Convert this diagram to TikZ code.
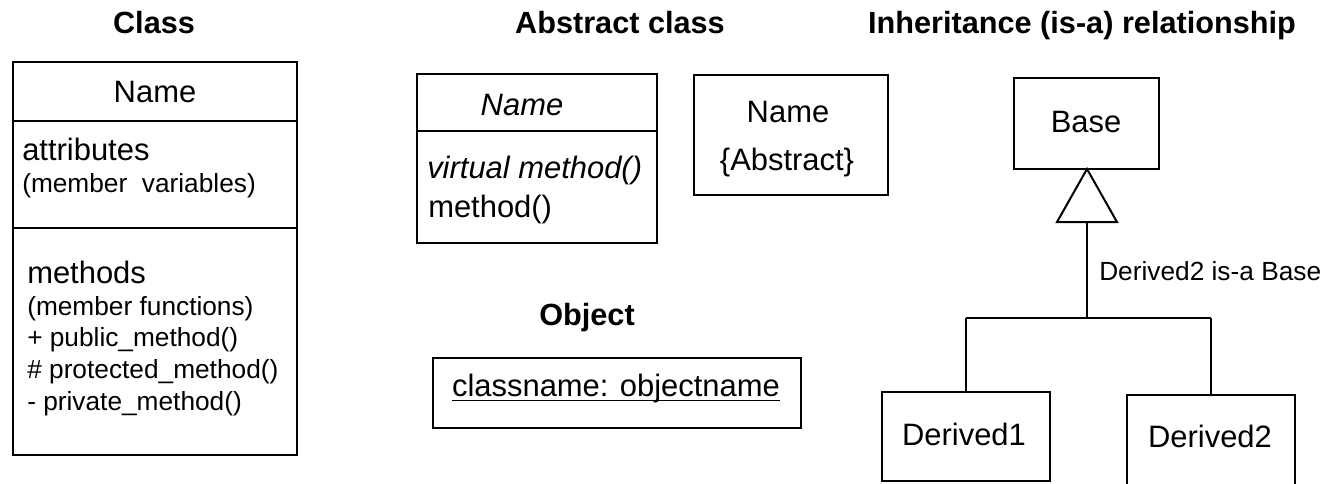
\documentclass[tikz,border=0pt]{standalone}
\usepackage{fontspec}
\setmainfont{Liberation Sans}
\usetikzlibrary{fit}
\begin{document}
\begin{tikzpicture}[x=0.75pt,y=-0.75pt,
  box/.style={draw, line width=1.5pt, inner sep=0pt},
  ln/.style={line width=1.5pt},
  big/.style={font=\fontsize{23.2}{27}\selectfont, inner sep=0pt},
  small/.style={font=\fontsize{19.7}{23}\selectfont, inner sep=0pt},
  ttl/.style={font=\fontsize{23}{27}\selectfont\bfseries, inner sep=0pt, anchor=base}]
\useasboundingbox (0,0) rectangle (1340,483);
% titles
\node[ttl] (t1) at (154,33) {Class};
\node[ttl] (t2) at (620,33) {Abstract class};
\node[ttl] (t3) at (1082,33) {Inheritance (is-a) relationship};
\node[ttl] (t4) at (587,325) {Object};
% class box
\node[box, fit={(13,62)(297,455)}] (cls) {};
\draw[ln] (cls.west |- 0,121) -- (cls.east |- 0,121);
\draw[ln] (cls.west |- 0,228) -- (cls.east |- 0,228);
\node[big, anchor=base] (cname) at (155,102) {Name};
\node[big, anchor=base west] (cattr) at (22,160) {attributes};
\node[small, anchor=base west] (cattr2) at (22,192) {(member\ \ variables)};
\node[big, anchor=base west] (cmeth) at (27,283) {methods};
\node[small, anchor=base west] (cm1) at (27,315) {(member functions)};
\node[small, anchor=base west] (cm2) at (27,346) {+ public\_method()};
\node[small, anchor=base west] (cm3) at (27,378) {\# protected\_method()};
\node[small, anchor=base west] (cm4) at (27,410) {- private\_method()};
% abstract class
\node[box, fit={(417,74)(657,243)}] (abs) {};
\draw[ln] (abs.west |- 0,131) -- (abs.east |- 0,131);
\node[big, anchor=base] (aname) at (522,115) {\itshape Name};
\node[big, anchor=base west] (av) at (427,178) {\itshape virtual method()};
\node[big, anchor=base west] (am) at (428,217) {method()};
\node[box, fit={(694,75)(888,195)}] (abs2) {};
\node[big, anchor=base] (a2n) at (788,122) {Name};
\node[big, anchor=base] (a2a) at (787,170) {\{Abstract\}};
% object
\node[box, fit={(433,358)(801,428)}] (obj) {};
\node[big, anchor=base] (objt) at (616,396) {classname: objectname};
\draw[line width=1pt] ([yshift=-3.5pt]objt.base west) -- ([yshift=-3.5pt]objt.base east);
% inheritance
\node[box, fit={(1014,78)(1159,169)}] (base) {};
\node[big, anchor=base] (baset) at (1086,132) {Base};
\node[box, fit={(882,392)(1050,481)}] (d1) {};
\node[big, anchor=base] (d1t) at (964,445) {Derived1};
\node[box, fit={(1127,395)(1295,492)}] (d2) {};
\node[big, anchor=base] (d2t) at (1210,447) {Derived2};
\coordinate (apex) at (1087,169);
\coordinate (tri) at (1087,222);
\coordinate (j) at (1087,318);
\coordinate (jl) at (966,318);
\coordinate (jr) at (1211,318);
\draw[ln, line join=miter] (apex) -- (1057,222) -- (1117,222) -- cycle;
\draw[ln] (tri) -- (j);
\draw[ln] (jl) -- (jr);
\draw[ln] (jl) -- (d1.north);
\draw[ln] (jr) -- (d2.north);
\node[small, anchor=base west] (lbl) at (1099,280) {Derived2 is-a Base};
\end{tikzpicture}
\end{document}
